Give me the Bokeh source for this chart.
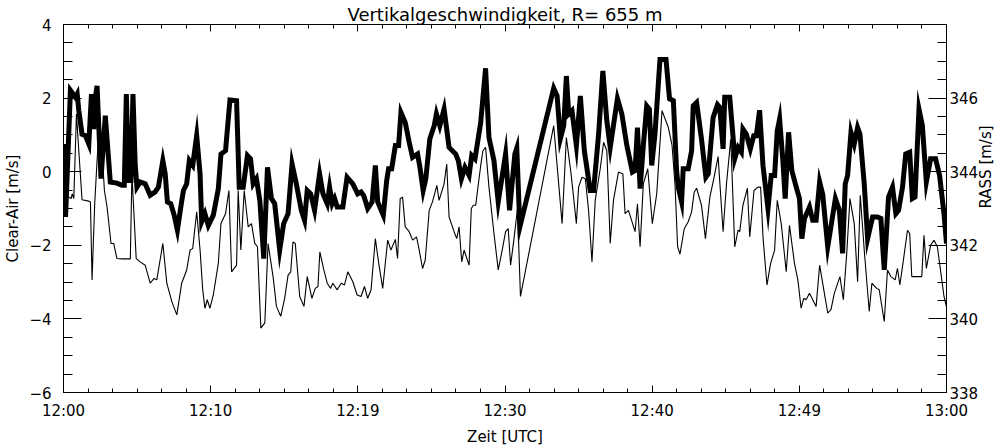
import math
from bokeh.plotting import figure
from bokeh.models import Range1d, LinearAxis, FixedTicker
from bokeh.embed import file_html
from bokeh.resources import INLINE

# ---- data: Clear-Air (thick line, left axis) ----
clear_t = [0.00, 0.14, 0.47, 0.65, 0.81, 0.93, 1.04, 1.26, 1.49, 1.72, 1.90, 2.05, 2.17, 2.28, 2.39, 2.55,
           2.84, 3.18, 3.63, 3.97, 4.13, 4.27, 4.42, 4.58, 4.72, 4.87, 4.99, 5.21, 5.55, 5.89, 6.23, 6.45,
           6.75, 6.91, 7.06, 7.29, 7.52, 7.74, 7.97, 8.15, 8.37, 8.55, 8.78, 9.05, 9.28, 9.39, 9.61, 9.84,
           10.18, 10.52, 10.70, 11.01, 11.31, 11.76, 11.94, 12.21, 12.50, 12.71, 12.89, 13.11, 13.34, 13.61,
           13.86, 14.13, 14.35, 14.69, 14.96, 15.26, 15.53, 15.82, 16.16, 16.38, 16.56, 16.79, 17.06, 17.40,
           17.63, 17.92, 18.08, 18.26, 18.42, 18.60, 18.98, 19.27, 19.66, 19.99, 20.22, 20.40, 20.67, 20.97,
           21.19, 21.35, 21.73, 21.96, 22.09, 22.30, 22.55, 22.77, 22.93, 23.22, 23.49, 23.72, 24.06, 24.22,
           24.44, 24.62, 24.89, 25.19, 25.34, 25.57, 25.86, 26.20, 26.65, 26.83, 27.04, 27.28, 27.56, 27.74,
           27.96, 28.35, 28.68, 28.91, 29.25, 29.54, 30.04, 30.31, 30.67, 30.80, 31.01, 33.31, 33.54, 33.76,
           33.99, 34.17, 34.33, 34.55, 34.85, 35.12, 35.39, 35.79, 36.02, 36.36, 36.65, 36.92, 37.15, 37.64,
           37.94, 38.28, 38.66, 38.84, 39.00, 39.18, 39.40, 39.63, 39.81, 39.97, 40.19, 40.53, 40.94, 41.18,
           41.44, 41.66, 41.77, 42.00, 42.11, 42.45, 42.68, 42.79, 43.02, 43.35, 43.65, 43.81, 44.14, 44.44,
           44.59, 44.82, 44.93, 45.27, 45.50, 45.61, 45.84, 46.06, 46.17, 46.40, 46.67, 46.90, 47.08, 47.30,
           47.53, 47.87, 48.09, 48.32, 48.50, 48.66, 48.88, 49.04, 49.27, 49.49, 49.79, 50.01, 50.17, 50.35,
           50.69, 50.91, 51.14, 51.38, 51.59, 51.93, 52.45, 52.72, 52.94, 53.12, 53.28, 53.51, 53.73, 53.96,
           54.12, 54.41, 54.64, 54.98, 55.31, 55.54, 55.77, 56.06, 56.33, 56.56, 56.74, 57.01, 57.23, 57.50,
           57.68, 57.86, 58.13, 58.36, 58.63, 58.92, 59.26, 59.53, 59.83, 60.00]
clear_v = [0.75, -1.23, 2.21, 2.11, 2.02, 2.11, 1.66, 1.02, 0.98, 0.75, 2.11, 1.16, 2.02, 2.33, 1.30, -0.19,
           1.52, -0.28, -0.31, -0.37, -0.37, 2.11, -0.24, -0.24, 2.11, 0.21, -0.42, -0.28, -0.33, -0.64, -0.55, -0.42,
           0.30, -0.06, -0.82, -0.87, -1.18, -1.59, -0.96, -0.51, -0.33, 0.30, 0.17, 0.98, -0.06, -1.36, -1.14, -1.46,
           -1.18, -0.46, 0.48, 0.57, 1.95, 1.93, -0.42, -0.42, 0.44, 0.35, -0.33, -0.19, -0.78, -2.36,
           0.12, -0.73, -0.87, -2.13, -1.41, -1.14, 0.21, -0.33, -1.05, -1.32, -0.51, -0.60, -1.05, -0.06,
           -0.60, -0.87, -0.42, -0.87, -0.73, -0.96, -0.96, -0.15, -0.33, -0.60, -0.55, -0.65, -1.00, -0.82,
           0.17, -0.82, -1.18, -0.24, 0.08, 0.08, 0.71, 0.71, 1.61, 1.34, 0.80, 0.39, 0.48, 0.12,
           -0.51, -0.19, 0.89, 1.25, 1.57, 1.25, 1.70, 0.66, 0.48, 0.30, -0.19, 0.12, -0.10, 0.44,
           0.35, 1.34, 2.81, 0.93, 0.30, -0.82, 0.48, -1.05, 0.48, 0.64, -1.50, 2.27, 2.06, 0.89,
           1.25, 2.60, 1.57, 1.66, 0.71, 2.06, 0.57, -0.51, -0.51, 1.02, 2.74, 1.38, 0.66, 1.99,
           1.57, 0.71, -0.01, 0.03, 1.20, -0.46, 0.71, 1.79, 1.70, 0.17, 1.02, 3.05, 3.05, 1.98,
           1.93, 0.03, -0.42, -0.82, 0.08, 0.08, 0.57, 1.79, 1.88, 0.89, -0.15, -0.06, 1.47, 1.82,
           1.75, 0.62, 2.02, 2.02, 0.93, 0.35, 0.66, 0.53, 1.16, 1.02, 0.62, 0.98, 0.98, 1.67,
           0.17, -1.00, -0.10, -0.10, 1.11, 1.43, 0.30, -0.73, 1.07, 0.03, -0.42, -0.73, -1.82, -1.27,
           -0.96, -1.32, -1.32, -0.28, -0.62, -2.04, -0.73, -1.05, -2.22, -0.33, -0.10, 1.07, 0.75, 1.20,
           1.02, -0.33, -1.82, -1.23, -1.23, -1.27, -2.67, -0.69, -0.42, -1.14, -1.05, -0.42, 0.48, 0.53,
           -0.73, -0.69, 1.70, 1.25, -0.28, 0.35, 0.35, -0.10, -1.14, -1.95]

# ---- data: RASS (thin line, right axis) ----
rass_t = [0.07, 0.36, 0.52, 0.59, 0.70, 0.88, 1.04, 1.26, 1.72, 1.83, 1.94, 2.12, 2.28, 2.46, 2.62, 2.78,
          2.96, 3.23, 3.41, 3.63, 3.97, 4.54, 4.65, 4.94, 5.21, 5.55, 5.89, 6.16, 6.34, 6.75, 7.02, 7.36,
          7.70, 8.03, 8.37, 8.60, 8.78, 9.05, 9.28, 9.46, 9.61, 9.77, 9.95, 10.18, 10.52, 10.70, 11.01, 11.24,
          11.42, 11.76, 11.87, 12.05, 12.28, 12.55, 12.77, 13.00, 13.18, 13.41, 13.68, 13.90, 14.24, 14.47,
          14.76, 15.03, 15.26, 15.44, 15.59, 15.75, 16.05, 16.34, 16.56, 16.88, 17.11, 17.29, 17.42, 17.69,
          17.92, 18.15, 18.30, 18.60, 18.87, 19.09, 19.32, 19.66, 19.95, 20.22, 20.45, 20.67, 20.90, 21.19,
          21.42, 21.69, 22.03, 22.25, 22.55, 22.70, 22.88, 23.04, 23.22, 23.49, 23.72, 23.99, 24.17, 24.40,
          24.58, 24.85, 25.07, 25.37, 25.52, 25.86, 26.04, 26.20, 26.54, 26.72, 26.88, 27.06, 27.22, 27.56,
          27.71, 27.85, 28.01, 28.35, 28.50, 28.68, 28.91, 29.25, 29.54, 29.81, 30.04, 30.22, 30.38, 30.60,
          30.85, 31.05, 33.31, 33.88, 34.17, 34.49, 34.85, 35.00, 35.23, 35.46, 35.68, 35.91, 36.13, 36.47,
          36.70, 36.92, 37.15, 37.37, 37.71, 38.01, 38.16, 38.39, 38.84, 39.00, 39.18, 39.40, 39.70, 40.01,
          40.31, 40.67, 41.10, 41.35, 41.55, 41.73, 41.89, 42.18, 42.45, 42.68, 42.86, 43.02, 43.35, 43.62,
          43.92, 44.21, 44.48, 44.82, 45.05, 45.34, 45.61, 45.84, 45.95, 46.17, 46.47, 46.63, 46.92, 47.19,
          47.37, 47.53, 47.80, 48.05, 48.32, 48.50, 48.77, 49.11, 49.33, 49.67, 49.90, 50.12, 50.30, 50.46,
          50.69, 50.91, 51.14, 51.38, 51.70, 51.93, 52.15, 52.38, 52.76, 52.99, 53.22, 53.44, 53.73, 53.96,
          54.14, 54.41, 54.75, 54.93, 55.25, 55.43, 55.77, 55.99, 56.22, 56.51, 56.67, 56.83, 57.01, 57.35,
          57.50, 57.64, 58.32, 58.47, 58.63, 58.92, 59.15, 59.38, 59.83, 59.99]
rass_v = [343.49, 343.31, 343.27, 343.40, 343.27, 345.57, 344.57, 343.24, 343.20, 343.18, 341.06, 343.13, 344.30, 345.48, 344.57, 343.49,
          343.04, 342.05, 342.05, 341.64, 341.63, 341.63, 343.94, 341.64, 341.55, 341.46, 340.97, 341.10, 341.06, 342.05, 340.97, 340.47,
          340.11, 340.97, 341.33, 341.87, 341.91, 342.91, 341.87, 340.79, 340.29, 340.52, 340.29, 340.65, 341.51, 342.59, 342.86, 343.49,
          341.28, 341.46, 343.49, 341.87, 343.49, 342.50, 342.59, 342.05, 341.96, 339.75, 339.89, 342.05, 341.15, 340.34,
          340.07, 340.56, 341.19, 341.28, 342.09, 342.05, 340.61, 340.34, 341.15, 340.56, 340.83, 340.88, 341.82, 341.33,
          340.97, 340.83, 340.97, 340.79, 340.97, 340.92, 341.28, 341.01, 340.65, 340.61, 340.88, 340.56, 340.79, 342.18,
          341.51, 340.83, 342.14, 341.87, 342.16, 341.64, 343.27, 343.31, 342.50, 342.37, 342.14, 342.23, 341.87, 341.37,
          341.60, 342.95, 343.18, 343.63, 343.22, 343.67, 344.21, 342.77, 342.37, 342.18, 342.50, 341.55, 341.87, 341.46,
          343.00, 343.09, 343.09, 344.17, 344.57, 344.66, 343.58, 342.32, 341.33, 341.87, 342.37, 342.45, 341.46, 342.14,
          343.00, 340.61, 345.25, 342.59, 344.93, 343.94, 342.59, 343.58, 343.85, 343.81, 342.95, 341.55, 343.22, 344.08,
          344.80, 344.57, 342.05, 343.22, 343.99, 343.94, 342.86, 342.95, 342.37, 343.13, 341.96, 343.67, 344.08, 342.59,
          343.40, 345.66, 345.20, 344.72, 343.67, 341.96, 341.76, 342.45, 342.64, 342.91, 343.45, 343.55, 343.09, 342.18,
          343.31, 343.85, 344.41, 342.37, 343.67, 344.89, 341.96, 342.41, 342.37, 343.09, 343.55, 342.23, 343.49, 343.58,
          343.58, 342.23, 340.92, 341.51, 341.87, 343.22, 342.59, 341.28, 342.54, 341.51, 341.06, 340.29, 340.56, 340.52,
          340.70, 340.52, 340.34, 341.46, 340.70, 340.16, 340.25, 340.70, 341.15, 340.52, 341.78, 343.27, 342.59, 341.01,
          343.36, 341.87, 340.20, 340.97, 340.83, 340.79, 339.93, 341.33, 341.15, 341.06, 341.37, 340.92, 341.42, 342.41,
          342.32, 341.15, 341.15, 342.27, 341.37, 342.00, 342.14, 341.96, 340.61, 340.34]

# ---- axes / labels ----
x_ticks = [0, 10, 20, 30, 40, 50, 60]
x_tick_labels = ["12:00", "12:10", "12:19", "12:30", "12:40", "12:49", "13:00"]
y_ticks = [-6, -4, -2, 0, 2, 4]
rass_ticks = [338, 340, 342, 344, 346]
title_text = "Vertikalgeschwindigkeit, R= 655 m"
left_label = "Clear-Air [m/s]"
right_label = "RASS [m/s]"
bottom_label = "Zeit [UTC]"

FONT = "DejaVu Sans"
TICK_FS = "15px"

x_minor = [i * 10 / 6 for i in range(37)]
y_minor = [-6 + 0.5 * i for i in range(21)]
r_minor = [338 + 0.5 * i for i in range(21)]

p = figure(width=1007, height=448, output_backend="svg", toolbar_location=None,
           x_range=Range1d(0, 60), y_range=Range1d(-6, 4), title=None,
           min_border_left=63, min_border_right=58, min_border_top=23, min_border_bottom=55)
p.extra_y_ranges = {"rass": Range1d(338, 348)}
p.grid.visible = False
p.outline_line_color = "black"
p.background_fill_color = "white"
p.border_fill_color = "white"


def style(ax, tick_in, minor_in, standoff):
    ax.major_tick_in = tick_in
    ax.major_tick_out = 0
    ax.minor_tick_in = minor_in
    ax.minor_tick_out = 0
    ax.axis_line_color = "black"
    ax.major_tick_line_color = "black"
    ax.minor_tick_line_color = "black"
    ax.major_label_standoff = standoff
    ax.major_label_text_font = FONT
    ax.major_label_text_font_size = TICK_FS
    ax.major_label_text_color = "black"
    ax.axis_label_text_font = FONT
    ax.axis_label_text_font_size = "15px"
    ax.axis_label_text_font_style = "normal"
    ax.axis_label_text_color = "black"


xa = p.xaxis[0]
xa.ticker = FixedTicker(ticks=x_ticks, minor_ticks=x_minor)
xa.major_label_overrides = {t: l for t, l in zip(x_ticks, x_tick_labels)}
style(xa, 7, 4, 9)
xa.axis_label = bottom_label
xa.axis_label_standoff = 5

ya = p.yaxis[0]
ya.ticker = FixedTicker(ticks=y_ticks, minor_ticks=y_minor)
style(ya, 18, 9, 12)
ya.axis_label = left_label
ya.axis_label_standoff = 4

top = LinearAxis(ticker=FixedTicker(ticks=x_ticks, minor_ticks=x_minor),
                 major_label_overrides={t: "" for t in x_ticks})
style(top, 7, 4, 0)
top.major_label_text_font_size = "0px"
top.axis_label = title_text
top.axis_label_text_font_size = "18px"
top.axis_label_standoff = 0
p.add_layout(top, "above")

right = LinearAxis(y_range_name="rass", ticker=FixedTicker(ticks=rass_ticks, minor_ticks=r_minor))
style(right, 18, 9, 3)
right.axis_label = right_label
right.axis_label_standoff = 5
right.axis_label_orientation = math.pi / 2
p.add_layout(right, "right")

# ---- lines ----
p.line(clear_t, clear_v, line_width=5, line_color="black", line_join="miter")
p.line(rass_t, rass_v, line_width=1.1, line_color="black", y_range_name="rass")

open("out.html", "w").write(file_html(p, INLINE))
